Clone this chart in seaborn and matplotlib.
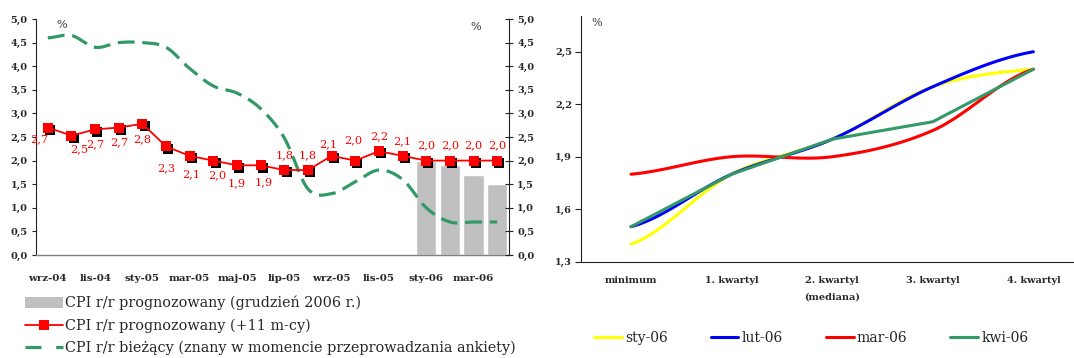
import numpy as np
import pandas as pd
import matplotlib
matplotlib.use("Agg")
import matplotlib.pyplot as plt
import matplotlib.transforms as mtransforms
from matplotlib.lines import Line2D
from matplotlib.patches import Patch
import seaborn as sns

# ---------------- data ----------------
months = ["wrz-04", "paź-04", "lis-04", "gru-04", "sty-05", "lut-05", "mar-05",
          "kwi-05", "maj-05", "cze-05", "lip-05", "sie-05", "wrz-05", "paź-05",
          "lis-05", "gru-05", "sty-06", "lut-06", "mar-06", "kwi-06"]
month_tick_labels = ["wrz-04", "lis-04", "sty-05", "mar-05", "maj-05",
                     "lip-05", "wrz-05", "lis-05", "sty-06", "mar-06"]
cpi_forecast_11m = [2.7, 2.53, 2.66, 2.7, 2.78, 2.3, 2.1, 2.0, 1.9, 1.9,
                    1.8, 1.8, 2.1, 2.0, 2.2, 2.1, 2.0, 2.0, 2.0, 2.0]
cpi_current = [4.6, 4.65, 4.4, 4.5, 4.5, 4.4, 3.95, 3.58, 3.43, 3.1,
               2.48, 1.4, 1.3, 1.55, 1.8, 1.6, 1.0, 0.7, 0.7, 0.7]
bar_months = ["sty-06", "lut-06", "mar-06", "kwi-06"]
cpi_forecast_dec06 = [2.0, 1.9, 1.7, 1.5]
left_yticks = [0.0, 0.5, 1.0, 1.5, 2.0, 2.5, 3.0, 3.5, 4.0, 4.5, 5.0]

quartile_labels = ["minimum", "1. kwartyl", "2. kwartyl\n(mediana)",
                   "3. kwartyl", "4. kwartyl"]
sty_06 = [1.4, 1.8, 2.0, 2.3, 2.4]
lut_06 = [1.5, 1.8, 2.0, 2.3, 2.5]
mar_06 = [1.8, 1.9, 1.9, 2.05, 2.4]
kwi_06 = [1.5, 1.8, 2.0, 2.1, 2.4]
survey_names = ["sty-06", "lut-06", "mar-06", "kwi-06"]
right_yticks = [1.3, 1.6, 1.9, 2.2, 2.5]

legend_left = ["CPI r/r prognozowany (grudzień 2006 r.)",
               "CPI r/r prognozowany (+11 m-cy)",
               "CPI r/r bieżący (znany w momencie przeprowadzania ankiety)"]

# ---------------- style ----------------
sns.set_style("white")
plt.rcParams["font.family"] = ["DejaVu Serif"]
plt.rcParams["axes.linewidth"] = 0.8

GREEN = "#339966"
RED = "#FF0000"
GRAY = "#C0C0C0"
SPINE = "#222222"


def fmt(v):
    return f"{v:.1f}".replace(".", ",")


def smooth(y, steps=30):
    """Smoothed rendering path (Catmull-Rom) through the data points."""
    y = np.asarray(y, float)
    n = len(y)
    p = np.concatenate([[y[0]], y, [y[-1]]])
    xs, ys = [], []
    t = np.linspace(0, 1, steps, endpoint=False)
    h00 = 2 * t**3 - 3 * t**2 + 1
    h10 = t**3 - 2 * t**2 + t
    h01 = -2 * t**3 + 3 * t**2
    h11 = t**3 - t**2
    for i in range(n - 1):
        m0 = (p[i + 2] - p[i]) / 2
        m1 = (p[i + 3] - p[i + 1]) / 2
        ys.append(h00 * y[i] + h10 * m0 + h01 * y[i + 1] + h11 * m1)
        xs.append(i + t)
    xs.append(np.array([n - 1.0]))
    ys.append(np.array([y[-1]]))
    return np.concatenate(xs), np.concatenate(ys)


W, H = 1074, 358
fig = plt.figure(figsize=(W / 100, H / 100), dpi=100)

# ---------------- left chart ----------------
ax = fig.add_axes([36 / W, 103 / H, 473 / W, 236 / H])
bars_df = pd.DataFrame({"month": bar_months, "value": cpi_forecast_dec06})
sns.barplot(data=bars_df, x="month", y="value", order=months, color=GRAY,
            saturation=1, width=0.85, errorbar=None, ax=ax, zorder=1)

gx, gy = smooth(cpi_current)
sns.lineplot(x=gx, y=gy, ax=ax, color=GREEN, lw=2.3, estimator=None,
             sort=False, linestyle=(0, (5.3, 2.4)), zorder=3)

idx = np.arange(len(months))
shadow = mtransforms.offset_copy(ax.transData, fig=fig, x=2.2, y=-2.2,
                                 units="dots")
ax.plot(idx, cpi_forecast_11m, ls="none", marker="s", ms=6.8, color="black",
        mew=0, transform=shadow, zorder=4)
sns.lineplot(x=idx, y=cpi_forecast_11m, ax=ax, color=RED, lw=1.3, marker="s",
             markersize=6.8, markeredgewidth=0, estimator=None, zorder=5)

# data labels (offsets in px)
label_off = {0: (-9, -12), 1: (8, -14), 5: (0, -22), 6: (2, -18), 7: (4, -15),
             8: (0, -18), 9: (3, -17), 12: (-3, 12), 13: (-2, 20)}
for i, v in enumerate(cpi_forecast_11m):
    dx, dy = label_off.get(i, (0, -15 if i < 10 else 15))
    ax.annotate(fmt(v), (i, v), xytext=(dx * 0.72, dy * 0.72),
                textcoords="offset points", ha="center", va="center",
                color=RED, fontsize=8.2, zorder=6)

ax.set_xlim(-0.5, len(months) - 0.5)
ax.set_ylim(0, 5)
ax.set_xticks(np.arange(-0.5, len(months), 2))
ax.set_xticklabels([])
ax.set_xticks(np.arange(0, len(months), 2), minor=True)
ax.set_xticklabels(month_tick_labels, minor=True, fontsize=7.4,
                   fontweight="bold")
ax.tick_params(axis="x", which="major", length=4.3, width=0.8,
               direction="out", color=SPINE)
ax.tick_params(axis="x", which="minor", length=0, pad=13.5)
ax.set_yticks(left_yticks)
ax.set_yticklabels([fmt(v) for v in left_yticks], fontsize=7,
                   fontweight="bold")
ax.tick_params(axis="y", length=3, width=0.8, direction="out", pad=3,
               color=SPINE, left=True)
ax.set_xlabel("")
ax.set_ylabel("")
ax.spines["top"].set_visible(False)
ax.spines["left"].set_color(SPINE)
ax.spines["right"].set_visible(False)
ax.spines["bottom"].set_color("#808080")
ax.spines["bottom"].set_linewidth(1.0)

ax2 = ax.twinx()
ax2.set_ylim(0, 5)
ax2.set_yticks(left_yticks)
ax2.set_yticklabels([fmt(v) for v in left_yticks], fontsize=7,
                    fontweight="bold")
ax2.tick_params(axis="y", length=6, width=0.8, direction="inout", pad=3,
                color=SPINE, right=True)
for s in ["top", "left", "bottom"]:
    ax2.spines[s].set_visible(False)
ax2.spines["right"].set_color(SPINE)

fig.text(62 / W, 1 - 25 / H, "%", fontsize=8, ha="center", va="center",
         color="#333333")
fig.text(476 / W, 1 - 27 / H, "%", fontsize=8, ha="center", va="center",
         color="#333333")

handles_left = [
    Patch(facecolor=GRAY, edgecolor="none"),
    Line2D([], [], color=RED, lw=1.3, marker="s", ms=6.8, mew=0),
    Line2D([], [], color=GREEN, lw=2.3, linestyle=(0, (5.0, 4.6))),
]
fig.legend(handles_left, legend_left, loc="upper left",
           bbox_to_anchor=(25 / W, 1 - 296 / H), frameon=False,
           fontsize=10.4, handlelength=2.6, handletextpad=0.2,
           labelspacing=0.55, borderpad=0, borderaxespad=0)

# ---------------- right chart ----------------
axr = fig.add_axes([580.7 / W, 96.3 / H, 503 / W, 246 / H])
series = [sty_06, lut_06, mar_06, kwi_06]
colors = ["#FFFF00", "#0000FF", "#FF0000", GREEN]
smoothed = [True, True, True, False]
for name, vals, c, sm in zip(survey_names, series, colors, smoothed):
    if sm:
        sx, sy = smooth(vals)
    else:
        sx, sy = np.arange(len(vals)), np.asarray(vals)
    sns.lineplot(x=sx, y=sy, ax=axr, color=c, lw=2.2, estimator=None,
                 sort=False)

axr.set_xlim(-0.5, 4.5)
axr.set_ylim(1.3, 2.706)
axr.set_xticks(np.arange(-0.5, 5, 1))
axr.set_xticklabels([])
axr.set_xticks(np.arange(5), minor=True)
axr.set_xticklabels(quartile_labels, minor=True, fontsize=7,
                    fontweight="bold", linespacing=2.1)
axr.tick_params(axis="x", which="major", length=3.5, width=0.8,
                direction="out", color=SPINE)
axr.tick_params(axis="x", which="minor", length=0, pad=10)
axr.set_yticks(right_yticks)
axr.set_yticklabels([fmt(v) for v in right_yticks], fontsize=7,
                    fontweight="bold")
axr.tick_params(axis="y", length=4.3, width=0.8, direction="out", pad=2,
                color=SPINE, left=True)
axr.set_xlabel("")
axr.set_ylabel("")
for s in ["top", "right"]:
    axr.spines[s].set_visible(False)
axr.spines["left"].set_color(SPINE)
axr.spines["bottom"].set_color(SPINE)

fig.text(597 / W, 1 - 23 / H, "%", fontsize=8, ha="center", va="center",
         color="#333333")

handles_right = [Line2D([], [], color=c, lw=2.2) for c in colors]
fig.legend(handles_right, survey_names, loc="upper left",
           bbox_to_anchor=(594 / W, 1 - 331 / H), frameon=False, ncol=4,
           fontsize=10, handlelength=2.0, handletextpad=0.22,
           columnspacing=3.1, borderpad=0, borderaxespad=0)

fig.savefig("out.png", dpi=100)
